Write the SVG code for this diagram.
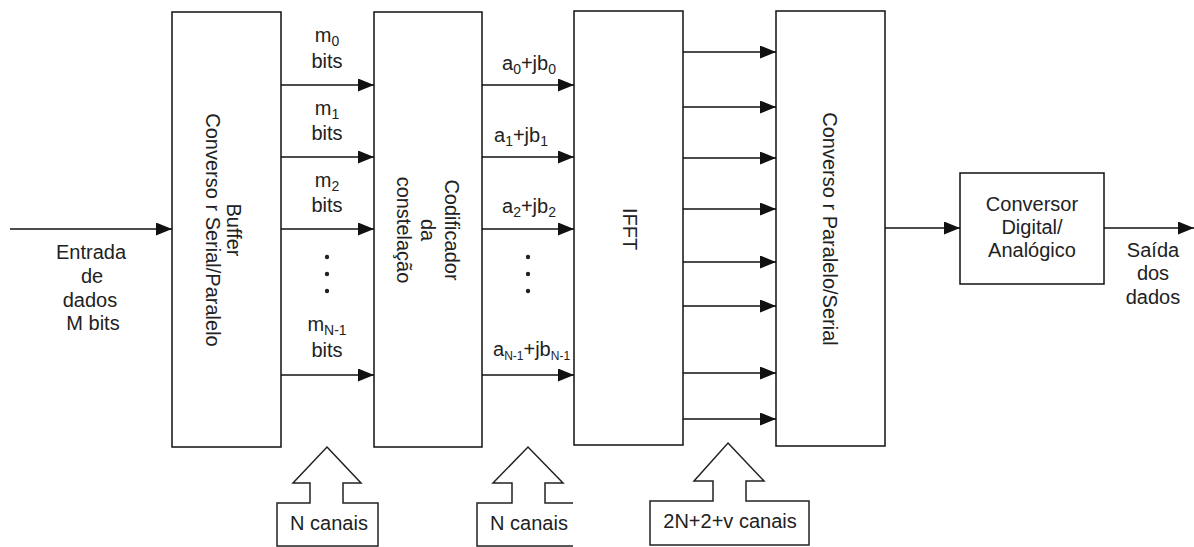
<svg xmlns="http://www.w3.org/2000/svg" width="1194" height="547" viewBox="0 0 1194 547">
<style>
.box{fill:#fff;stroke:#111;stroke-width:1.5}
.ln{fill:none;stroke:#111;stroke-width:1.5}
.blk{fill:none;stroke:#222;stroke-width:1.5;stroke-linejoin:miter}
text{font-family:"Liberation Sans",Arial,sans-serif;font-size:20px;fill:#222}
.c{text-anchor:middle}
.sub{font-size:14px}
.subs{font-size:12px}
</style>
<defs>
<marker id="ah" markerUnits="userSpaceOnUse" markerWidth="16" markerHeight="13" refX="16" refY="6.5" orient="auto">
<path d="M0,0 L16,6.5 L0,13 z" fill="#111"/>
</marker>
</defs>
<rect width="1194" height="547" fill="#fff"/>

<g id="connectors">
<line class="ln" x1="10" y1="229" x2="172" y2="229" marker-end="url(#ah)"/>
<line class="ln" x1="281" y1="85" x2="374" y2="85" marker-end="url(#ah)"/>
<line class="ln" x1="281" y1="157" x2="374" y2="157" marker-end="url(#ah)"/>
<line class="ln" x1="281" y1="229" x2="374" y2="229" marker-end="url(#ah)"/>
<line class="ln" x1="281" y1="375" x2="374" y2="375" marker-end="url(#ah)"/>
<line class="ln" x1="482" y1="85" x2="574" y2="85" marker-end="url(#ah)"/>
<line class="ln" x1="482" y1="157" x2="574" y2="157" marker-end="url(#ah)"/>
<line class="ln" x1="482" y1="229" x2="574" y2="229" marker-end="url(#ah)"/>
<line class="ln" x1="482" y1="375" x2="574" y2="375" marker-end="url(#ah)"/>
<line class="ln" x1="683" y1="52" x2="776" y2="52" marker-end="url(#ah)"/>
<line class="ln" x1="683" y1="107" x2="776" y2="107" marker-end="url(#ah)"/>
<line class="ln" x1="683" y1="158" x2="776" y2="158" marker-end="url(#ah)"/>
<line class="ln" x1="683" y1="209" x2="776" y2="209" marker-end="url(#ah)"/>
<line class="ln" x1="683" y1="262" x2="776" y2="262" marker-end="url(#ah)"/>
<line class="ln" x1="683" y1="306" x2="776" y2="306" marker-end="url(#ah)"/>
<line class="ln" x1="683" y1="373" x2="776" y2="373" marker-end="url(#ah)"/>
<line class="ln" x1="683" y1="419" x2="776" y2="419" marker-end="url(#ah)"/>
<line class="ln" x1="885" y1="228" x2="960" y2="228" marker-end="url(#ah)"/>
<line class="ln" x1="1104" y1="228" x2="1194" y2="228" marker-end="url(#ah)"/>
</g>

<g id="input-label">
<text class="c" x="91" y="259">Entrada</text>
<text class="c" x="92" y="283">de</text>
<text class="c" x="90" y="307">dados</text>
<text class="c" x="93" y="330">M bits</text>
</g>

<g id="buffer">
<rect class="box" x="172" y="12" width="109" height="435"/>
<text class="c" transform="translate(227,230) rotate(90)">Buffer</text>
<text class="c" transform="translate(206,230) rotate(90)">Converso r Serial/Paralelo</text>
</g>

<g id="m-labels">
<text class="c" x="327" y="42">m<tspan class="sub" dy="4">0</tspan></text>
<text class="c" x="327" y="68">bits</text>
<text class="c" x="327" y="115">m<tspan class="sub" dy="4">1</tspan></text>
<text class="c" x="327" y="140">bits</text>
<text class="c" x="327" y="187">m<tspan class="sub" dy="4">2</tspan></text>
<text class="c" x="327" y="212">bits</text>
<circle cx="327" cy="257" r="2.2" fill="#222"/>
<circle cx="327" cy="274" r="2.2" fill="#222"/>
<circle cx="327" cy="291" r="2.2" fill="#222"/>
<text class="c" x="327" y="331">m<tspan class="sub" dy="4">N-1</tspan></text>
<text class="c" x="327" y="357">bits</text>
</g>

<g id="codificador">
<rect class="box" x="374" y="12" width="108" height="435"/>
<text class="c" transform="translate(445,230) rotate(90)">Codificador</text>
<text class="c" transform="translate(421,230) rotate(90)">da</text>
<text class="c" transform="translate(397,230) rotate(90)">constelação</text>
</g>

<g id="a-labels">
<text x="502" y="70">a<tspan class="sub" dy="4">0</tspan><tspan dy="-4">+jb</tspan><tspan class="sub" dy="4">0</tspan></text>
<text x="494" y="142">a<tspan class="sub" dy="4">1</tspan><tspan dy="-4">+jb</tspan><tspan class="sub" dy="4">1</tspan></text>
<text x="502" y="213">a<tspan class="sub" dy="4">2</tspan><tspan dy="-4">+jb</tspan><tspan class="sub" dy="4">2</tspan></text>
<circle cx="528" cy="257" r="2.2" fill="#222"/>
<circle cx="528" cy="274" r="2.2" fill="#222"/>
<circle cx="528" cy="291" r="2.2" fill="#222"/>
<text x="493" y="356">a<tspan class="subs" dy="4">N-1</tspan><tspan dy="-4">+jb</tspan><tspan class="subs" dy="4">N-1</tspan></text>
</g>

<g id="ifft">
<rect class="box" x="574" y="11" width="109" height="434"/>
<text class="c" transform="translate(623,229) rotate(90)">IFFT</text>
</g>

<g id="conversor-ps">
<rect class="box" x="776" y="11" width="109" height="435"/>
<text class="c" transform="translate(823,229) rotate(90)">Converso r Paralelo/Serial</text>
</g>

<g id="dac">
<rect class="box" x="960" y="173" width="144" height="111"/>
<text class="c" x="1032" y="211">Conversor</text>
<text class="c" x="1032" y="234">Digital/</text>
<text class="c" x="1032" y="257">Analógico</text>
</g>

<g id="output-label">
<text class="c" x="1153" y="257">Saída</text>
<text class="c" x="1153" y="280">dos</text>
<text class="c" x="1153" y="304">dados</text>
</g>

<g id="block-arrow-1">
<path class="blk" d="M327,447 L361,483 L343,483 L343,503 L378,503 L378,546 L277,546 L277,503 L310,503 L310,483 L293,483 Z"/>
<text class="c" x="329" y="530">N canais</text>
</g>

<g id="block-arrow-2">
<path class="blk" d="M573,503 L545,503 L545,483 L563,483 L528,447 L493,483 L512,483 L512,503 L477,503 L477,546 L573,546"/>
<text class="c" x="529" y="530">N canais</text>
</g>

<g id="block-arrow-3">
<path class="blk" d="M728,443 L764,481 L746,481 L746,501 L809,501 L809,545 L650,545 L650,501 L713,501 L713,481 L694,481 Z"/>
<text class="c" x="730" y="528">2N+2+v canais</text>
</g>
</svg>
